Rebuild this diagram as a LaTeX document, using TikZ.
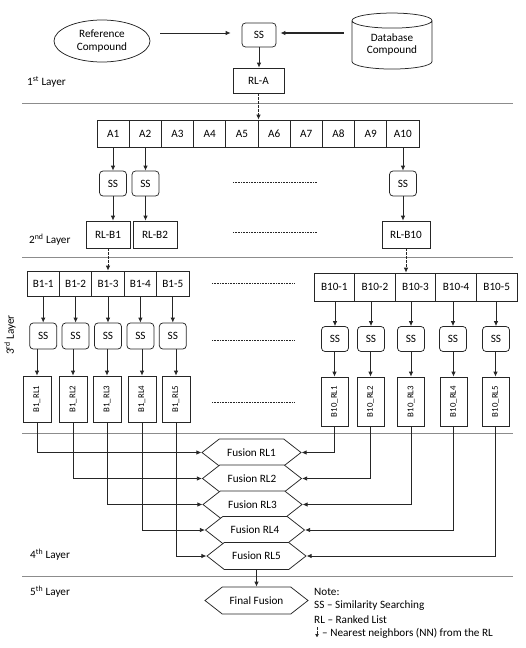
\documentclass[tikz,border=0pt]{standalone}
\usepackage{fontspec}
\usepackage{graphicx}
\setmainfont{Carlito}
\usetikzlibrary{shapes.geometric,shapes.symbols,arrows.meta,calc}
\begin{document}
\begin{tikzpicture}[x=1pt,y=-1pt,font=\fontsize{11.2}{13}\selectfont,
 ln/.style={draw=black!85, line width=0.75pt},
 cell/.style={ln, fill=white, inner sep=0pt},
 ssbox/.style={ln, rounded corners=3.5pt, inner sep=0pt, minimum width=27pt, minimum height=25pt},
 rlbox/.style={ln, inner sep=0pt},
 arr/.style={line width=0.75pt, draw=black!85, -{Latex[length=5pt,width=4.5pt]}},
 nnarr/.style={arr, dash pattern=on 2.5pt off 1.5pt},
 sepline/.style={draw=black!45, line width=0.8pt},
 dotline/.style={draw=black!85, line width=0.8pt, dash pattern=on 0.8pt off 0.8pt},
 hexa/.style={ln, signal, signal to=east and west, signal pointer angle=76, minimum width=99pt, minimum height=27pt, inner sep=0pt, fill=white},
 lay/.style={anchor=west, inner sep=0pt},
 rltext/.style={font=\fontsize{8.8}{10}\selectfont}
]
\useasboundingbox (0,0) rectangle (525,648);

% ---------- Layer 1 ----------
\node[ln, ellipse, minimum width=96pt, minimum height=42pt, inner sep=0pt, align=center] (ref) at (102,41) {Reference\\Compound};
\node[ssbox, minimum width=34pt, minimum height=24pt] (ss0) at (259,35) {SS};
\node[ln, cylinder, shape border rotate=90, aspect=0.3, minimum width=80pt, minimum height=56pt, inner sep=0pt] (db) at (392,45)
  {\raisebox{-5pt}{\begin{tabular}{@{}c@{}}Database\\[-1pt]Compound\end{tabular}}};
\node[rlbox, minimum width=51pt, minimum height=25pt] (rla) at (258.5,80.5) {RL-A};
\draw[arr] ($(ref.east |- ss0.west)+(10,-2)$) -- ($(ss0.west)+(-11,-2)$);
\draw[arr, line width=1.5pt] ($(db.west |- ss0.east)+(-8,-2)$) -- ($(ss0.east)+(4,-2)$);
\draw[arr] (ss0.south) -- (ss0.south |- rla.north);
\node[lay] at (27,82) {1\textsuperscript{st} Layer};
\draw[sepline] (22,103) -- (513,103);

% ---------- Layer 2 ----------
\foreach \i in {1,...,10}{
  \node[cell, minimum width=32.2pt, minimum height=27pt] (A\i) at ({97+32.2*(\i-0.5)},133.5) {A\i};
}
\draw[nnarr] (rla.south) -- (rla.south |- A5.north);
\node[ssbox] (sa1) at (113,183.5) {SS};
\node[ssbox] (sa2) at (145.5,183.5) {SS};
\node[ssbox] (sa10) at (403,183.5) {SS};
\node[rlbox, minimum width=44pt, minimum height=27pt] (rb1) at (108,234.5) {RL-B1};
\node[rlbox, minimum width=44pt, minimum height=27pt] (rb2) at (155,234.5) {RL-B2};
\node[rlbox, minimum width=48pt, minimum height=27pt] (rb10) at (406,234.5) {RL-B10};
\foreach \k in {1,2,10}{
  \draw[arr] (sa\k.north |- A\k.south) -- (sa\k.north);
  \draw[arr] (sa\k.south) -- (sa\k.south |- rb\k.north);
}
\draw[dotline] (233,182) -- (317,182);
\draw[dotline] (233,232) -- (317,232);
\node[lay] at (29,240) {2\textsuperscript{nd} Layer};
\draw[sepline] (22,257) -- (513,257);

% ---------- Layer 3 ----------
\foreach \i/\sx/\rx in {1/43.2/37, 2/75.6/73, 3/108/107, 4/140.4/142, 5/172.8/176}{
  \node[cell, minimum width=32.4pt, minimum height=25pt] (b\i) at ({27+32.4*(\i-0.5)},283.5) {B1-\i};
  \node[ssbox, minimum height=26pt] (sl\i) at (\sx,336) {SS};
  \node[rlbox, minimum width=28pt, minimum height=46pt, rltext] (lr\i) at (\rx,399) {\rotatebox{90}{B1\_RL\i}};
  \draw[arr] (sl\i.north |- b\i.south) -- (sl\i.north);
  \draw[arr] (lr\i.north |- sl\i.south) -- (lr\i.north);
}
\foreach \i/\sx/\rx in {1/335/334.5, 2/371/370.5, 3/411/411, 4/453/453.5, 5/496/495.5}{
  \node[cell, minimum width=40.6pt, minimum height=28pt] (c\i) at ({314+40.6*(\i-0.5)},287) {B10-\i};
  \node[ssbox] (sr\i) at (\sx,339) {SS};
  \node[rlbox, minimum width=27pt, minimum height=49pt, rltext] (rr\i) at (\rx,401.5) {\rotatebox{90}{B10\_RL\i}};
  \draw[arr] (sr\i.north |- c\i.south) -- (sr\i.north);
  \draw[arr] (rr\i.north |- sr\i.south) -- (rr\i.north);
}
\draw[nnarr] (rb1.south) -- (rb1.south |- b3.north);
\draw[nnarr] (rb10.south) -- (rb10.south |- c3.north);
\draw[dotline] (212,283) -- (295,283);
\draw[dotline] (212,340) -- (295,340);
\draw[dotline] (212,402) -- (295,402);
\node[rotate=90, inner sep=0pt] at (10,335) {3\textsuperscript{rd} Layer};
\draw[sepline] (22,433) -- (513,433);

% ---------- Layer 4 ----------
\node[hexa] (h1) at (251.5,452.5) {Fusion RL1};
\node[hexa] (h2) at (252,478.5) {Fusion RL2};
\node[hexa] (h3) at (252.5,504.5) {Fusion RL3};
\node[hexa] (h4) at (255,530) {Fusion RL4};
\node[hexa] (h5) at (256.5,556) {Fusion RL5};
\foreach \i in {1,...,5}{
  \draw[arr] (lr\i.south) |- (h\i.west);
  \draw[arr] (rr\i.south) |- (h\i.east);
}
\node[lay] at (30,555) {4\textsuperscript{th} Layer};
\draw[sepline] (22,576) -- (513,576);

% ---------- Layer 5 ----------
\node[hexa, minimum width=103pt] (ff) at (256.5,600.5) {Final Fusion};
\draw[arr] (h5.south) -- (h5.south |- ff.north);
\node[lay] at (30,592) {5\textsuperscript{th} Layer};

% ---------- Note ----------
\node[lay] (n0) at (314,592) {Note:};
\node[lay] (n1) at (314,606) {SS – Similarity Searching};
\node[lay] (n2) at (314,619.5) {RL – Ranked List};
\node[lay] (n3) at (322,633) {– Nearest neighbors (NN) from the RL};
\draw[nnarr, -{Latex[length=3.5pt,width=4pt]}] (317,627) -- (317,637.5);
\end{tikzpicture}
\end{document}
